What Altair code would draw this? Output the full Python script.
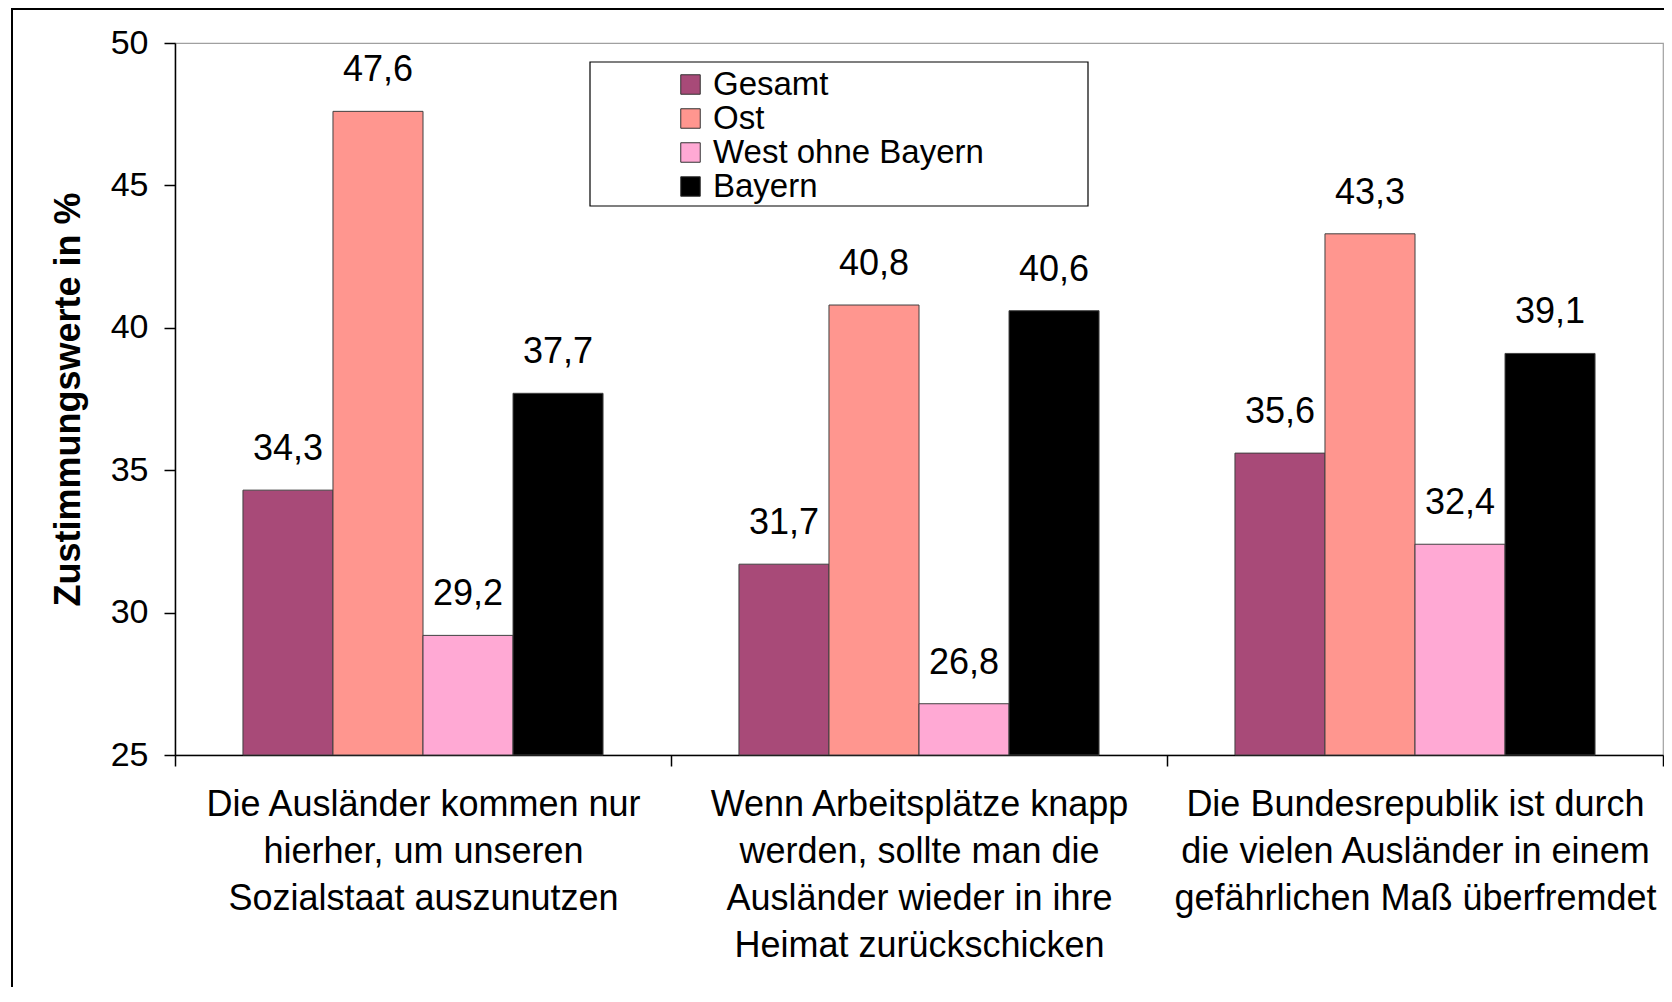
import altair as alt
import pandas as pd

categories = [
    "Die Ausländer kommen nur|hierher, um unseren|Sozialstaat auszunutzen",
    "Wenn Arbeitsplätze knapp|werden, sollte man die|Ausländer wieder in ihre|Heimat zurückschicken",
    "Die Bundesrepublik ist durch|die vielen Ausländer in einem|gefährlichen Maß überfremdet",
]
series = ["Gesamt", "Ost", "West ohne Bayern", "Bayern"]
gesamt = [34.3, 31.7, 35.6]
ost = [47.6, 40.8, 43.3]
west = [29.2, 26.8, 32.4]
bayern = [37.7, 40.6, 39.1]
colors = ["#A84A78", "#FF968F", "#FFA9D4", "#000000"]
y_ticks = [25, 30, 35, 40, 45, 50]

rows = []
for name, vals in zip(series, [gesamt, ost, west, bayern]):
    for c, v in zip(categories, vals):
        rows.append({"category": c, "series": name, "value": v})
df = pd.DataFrame(rows)

W, H = 1488, 712
FONT = "Liberation Sans"

base = alt.Chart(df).transform_calculate(
    label="replace(format(datum.value, '.1f'), '.', ',')"
)

x_enc = alt.X(
    "category:N",
    sort=categories,
    scale=alt.Scale(paddingInner=0, paddingOuter=0),
    axis=alt.Axis(
        title=None,
        labelExpr="split(datum.label, '|')",
        labelAngle=0,
        labelFontSize=36,
        labelLineHeight=47,
        labelPadding=21,
        labelColor="black",
        labelFont=FONT,
        labelLimit=600,
        tickBand="extent",
        tickSize=11,
        tickColor="black",
        tickWidth=1.5,
        domainColor="black",
        domainWidth=1.5,
    ),
)
xoff = alt.XOffset(
    "series:N", sort=series, scale=alt.Scale(paddingInner=0, paddingOuter=0.755)
)
y_enc = alt.Y(
    "value:Q",
    scale=alt.Scale(domain=[25, 50], zero=False, nice=False),
    axis=alt.Axis(
        title="Zustimmungswerte in %",
        titleFontSize=36,
        titleFontWeight="bold",
        titleFont=FONT,
        titleColor="black",
        titlePadding=23,
        values=y_ticks,
        labelFontSize=34,
        labelFont=FONT,
        labelColor="black",
        labelPadding=16,
        tickSize=11,
        tickColor="black",
        tickWidth=1.5,
        domainColor="black",
        domainWidth=1.5,
        grid=False,
    ),
)

frame = alt.Chart(pd.DataFrame({"a": [0]})).mark_rect(
    fill=None, stroke="black", strokeWidth=2
).encode(
    x=alt.value(-163), x2=alt.value(W + 40), y=alt.value(-34), y2=alt.value(H + 300)
)

legend_box = alt.Chart(pd.DataFrame({"a": [0]})).mark_rect(
    fill="white", stroke="black", strokeWidth=1.2
).encode(
    x=alt.value(415), x2=alt.value(913), y=alt.value(19), y2=alt.value(163)
)

bars = base.mark_bar(stroke="#404040", strokeWidth=1).encode(
    x=x_enc,
    xOffset=xoff,
    y=y_enc,
    y2=alt.datum(25),
    color=alt.Color(
        "series:N",
        sort=series,
        scale=alt.Scale(domain=series, range=colors),
        legend=alt.Legend(
            title=None,
            orient="none",
            legendX=499,
            legendY=25,
            symbolType="square",
            symbolSize=380,
            symbolStrokeWidth=1,
            symbolStrokeColor="#333333",
            labelFontSize=33,
            labelFont=FONT,
            labelColor="black",
            labelOffset=6,
            rowPadding=0,
            padding=0,
            labelLimit=500,
        ),
    ),
)

texts = base.mark_text(
    baseline="alphabetic", dy=-30, fontSize=36, font=FONT, color="black"
).encode(
    x=alt.X("category:N", sort=categories),
    xOffset=alt.XOffset("series:N", sort=series),
    y=alt.Y("value:Q"),
    text="label:N",
)

chart = alt.layer(frame, legend_box, bars, texts).properties(
    width=W,
    height=H,
    autosize=alt.AutoSizeParams(type="none"),
    padding={"left": 167, "top": 35, "right": 1, "bottom": 232},
    background="white",
).configure_view(stroke="#a0a0a0", strokeWidth=1.2)

chart.save("out.html", embed_options={"renderer": "svg", "actions": False})
